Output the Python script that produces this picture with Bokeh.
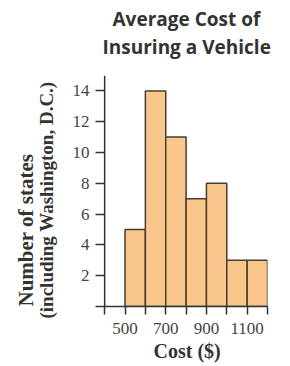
from bokeh.plotting import figure
from bokeh.models import FixedTicker, Range1d, Span, Title, LinearAxis
from bokeh.embed import file_html
from bokeh.resources import INLINE

# ---- data ----
bin_edges = [500, 600, 700, 800, 900, 1000, 1100, 1200]
counts = [5, 14, 11, 7, 8, 3, 3]
x_ticks = [400, 500, 600, 700, 800, 900, 1000, 1100, 1200]
x_tick_labels = ["", "500", "", "700", "", "900", "", "1100", ""]
y_ticks = [2, 4, 6, 8, 10, 12, 14]
y_axis_at = 400
title_lines = ["Average Cost of", "Insuring a Vehicle"]
x_label = "Cost ($)"
y_label_lines = ["Number of states", "(including Washington, D.C.)"]

FILL = "#F9C78B"
EDGE = "#4a3c30"
AX = "#333333"
TXT = "#333333"

p = figure(width=290, height=366, output_backend="svg", toolbar_location=None,
           x_range=Range1d(355, 1200), y_range=Range1d(0, 15),
           min_border_left=95, min_border_right=23, min_border_top=75,
           min_border_bottom=60)
p.title.visible = False
p.outline_line_color = None
p.xgrid.visible = False
p.ygrid.visible = False

p.quad(left=bin_edges[:-1], right=bin_edges[1:], bottom=0, top=counts,
       fill_color=FILL, line_color=EDGE, line_width=1.5)

# y axis line at x = 400
p.add_layout(Span(location=y_axis_at, dimension="height", line_color=AX,
                  line_width=1.5))

# x axis
xa = p.xaxis[0]
xa.ticker = FixedTicker(ticks=x_ticks)
xa.major_label_overrides = {t: l for t, l in zip(x_ticks, x_tick_labels)}
xa.minor_tick_line_color = None
xa.major_tick_in = 0
xa.major_tick_out = 8
xa.axis_line_width = 1.5
xa.major_tick_line_width = 1.5
xa.axis_line_color = AX
xa.major_tick_line_color = AX
xa.major_label_text_font = "Liberation Serif"
xa.major_label_text_font_size = "17px"
xa.major_label_text_color = "#444444"
xa.major_label_standoff = 8

# y axis: labels at frame edge, ticks reaching in to x = 400
ya = p.yaxis[0]
ya.ticker = FixedTicker(ticks=y_ticks)
ya.minor_tick_line_color = None
ya.axis_line_color = None
ya.major_tick_in = 9
ya.major_tick_out = 0
ya.major_tick_line_width = 1.5
ya.major_tick_line_color = AX
ya.major_label_text_font = "Liberation Serif"
ya.major_label_text_font_size = "17px"
ya.major_label_text_color = "#444444"
ya.major_label_standoff = 6


def spacer(size, at):
    # an empty axis used only to reserve space in a side panel
    return LinearAxis(ticker=FixedTicker(ticks=[at]), major_tick_out=size,
                      major_tick_in=0, axis_line_color=None,
                      major_tick_line_color="white", major_tick_line_width=1,
                      minor_tick_line_color=None, major_label_standoff=0,
                      major_label_text_font_size="0px",
                      major_label_overrides={at: ""})


# left: spacer then two label lines
p.add_layout(spacer(17, 0.5), "left")
p.add_layout(Title(text=y_label_lines[1], align="left", offset=-12,
                   vertical_align="bottom", standoff=-8,
                   text_font="Liberation Serif", text_font_style="bold",
                   text_font_size="19px", text_color=TXT), "left")
p.add_layout(Title(text=y_label_lines[0], align="left", offset=0,
                   vertical_align="bottom", standoff=0,
                   text_font="Liberation Serif", text_font_style="bold",
                   text_font_size="21px", text_color=TXT), "left")

# above: spacer then two title lines
p.add_layout(spacer(16, 360), "above")
p.add_layout(Title(text=title_lines[1], align="left", offset=7,
                   vertical_align="bottom", standoff=0,
                   text_font="Open Sans", text_font_style="bold",
                   text_font_size="19px", text_color=TXT), "above")
p.add_layout(Title(text=title_lines[0], align="left", offset=17,
                   vertical_align="bottom", standoff=0,
                   text_font="Open Sans", text_font_style="bold",
                   text_font_size="19px", text_color=TXT), "above")

# below: spacer then x label
p.add_layout(spacer(1, 360), "below")
p.add_layout(Title(text=x_label, align="left", offset=58,
                   vertical_align="bottom", standoff=0,
                   text_font="Liberation Serif", text_font_style="bold",
                   text_font_size="20px", text_color=TXT), "below")

open("out.html", "w").write(file_html(p, INLINE))
